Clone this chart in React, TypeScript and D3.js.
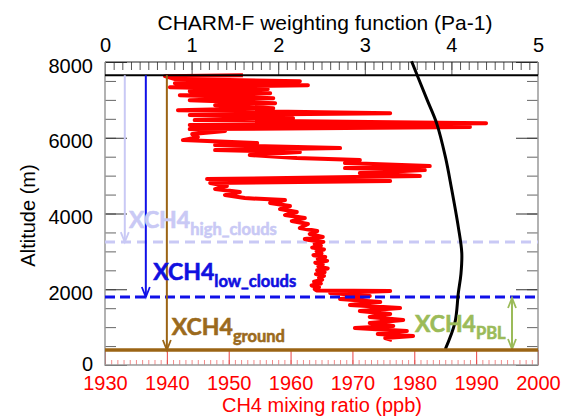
import React, { useRef, useEffect } from 'react'
import * as d3 from 'd3'

// CH4 profile (altitude m, mixing ratio ppb) top to bottom
const ch4Alt = [
    7653, 7627, 7548, 7495, 7442, 7389, 7336, 7284, 7231, 7178, 7125, 7046, 6993, 6914, 6861, 6782,
    6729, 6650, 6598, 6518, 6466, 6386, 6334, 6281, 6228, 6175, 6096, 6017, 5938, 5859, 5806, 5727,
    5674, 5621, 5542, 5463, 5410, 5331, 5252, 5199, 5146, 5067, 4988, 4909, 4856, 4803, 4724, 4645,
    4565, 4486, 4407, 4354, 4275, 4196, 4117, 4038, 3958, 3879, 3800, 3721, 3615, 3536, 3457, 3378,
    3325, 3300, 3250, 3200, 3150, 3100, 3050, 3000, 2950, 2900, 2850, 2800, 2750, 2700, 2650, 2600,
    2550, 2500, 2450, 2400, 2350, 2300, 2250, 2200, 2150, 2100, 2050, 2006, 1970, 1953, 1900, 1821,
    1742, 1663, 1583, 1504, 1425, 1346, 1267, 1188, 1108, 1029, 976, 897, 818, 765, 713, 660,
]
const ch4Ppb = [
    1952.3, 1939.7, 1941.3, 1961.5, 1941.3, 1962.8, 1940.5, 1956.3, 1943.7, 1956.7, 1942.1, 1957.2,
    1943.7, 1957.5, 1947.8, 1957.2, 1941.8, 1976.1, 1943.7, 1960.4, 1944.5, 1991.6, 1943.7, 1989.0,
    1943.7, 1949.4, 1944.1, 1945.0, 1942.6, 1954.6, 1947.8, 1968.0, 1947.8, 1961.5, 1953.4, 1961.0,
    1971.2, 1968.8, 1982.5, 1968.8, 1981.7, 1971.2, 1980.9, 1946.5, 1976.1, 1947.0, 1949.7, 1947.8,
    1951.8, 1949.4, 1952.6, 1959.1, 1956.7, 1959.9, 1958.3, 1961.0, 1959.1, 1962.3, 1960.2, 1962.8,
    1961.5, 1964.3, 1963.1, 1965.2, 1962.3, 1963.0, 1965.3, 1963.9, 1964.9, 1963.5, 1965.4, 1964.2,
    1965.0, 1963.7, 1965.6, 1964.4, 1965.9, 1964.0, 1965.2, 1964.5, 1966.0, 1964.3, 1965.5, 1964.1,
    1965.4, 1964.6, 1965.1, 1963.8, 1964.9, 1963.4, 1964.6, 1963.9, 1964.2, 1976.1, 1966.4, 1972.8,
    1968.0, 1974.5, 1969.6, 1977.7, 1971.2, 1976.1, 1972.8, 1978.2, 1972.8, 1976.6, 1970.4, 1978.8,
    1974.1, 1979.8, 1975.3, 1976.4,
]

// CHARM-F weighting function (Pa-1) vs altitude
const wfAlt = [8020, 7000, 6380, 5500, 4680, 3640, 2955, 2400, 1900, 1110, 420]
const wfVal = [3.54, 3.72, 3.83, 3.93, 4.0, 4.08, 4.12, 4.11, 4.08, 4.04, 3.93]

const topTicks = [0, 1, 2, 3, 4, 5]
const bottomTicks = [1930, 1940, 1950, 1960, 1970, 1980, 1990, 2000]
const altTicks = [0, 2000, 4000, 6000, 8000]

// reference levels (m)
const flightTop = 7650
const highClouds = 3245
const lowClouds = 1795
const ground = 396

// arrow positions (ppb)
const highArrow = 1933.2
const lowArrow = 1936.6
const groundArrow = 1940
const pblArrow = 1995.8

const W = 569
const H = 419

export default function App() {
    const svgRef = useRef<SVGSVGElement>(null)

    useEffect(() => {
        if (!svgRef.current) return
        const svg = d3.select(svgRef.current)
        svg.selectAll('*').remove()

        const left = 105
        const right = 538
        const top = 62
        const bottom = 365

        const x = d3.scaleLinear().domain([1930, 2000]).range([left, right])
        const xw = d3.scaleLinear().domain([0, 5]).range([left, right])
        const y = d3.scaleLinear().domain([0, 8000]).range([bottom, top])

        const font = 'Liberation Sans, Arial, sans-serif'
        const lab = 'Lato, Calibri, sans-serif'

        const style = (g: any, color: string, fs = 20) => {
            g.select('.domain').remove()
            g.selectAll('.tick line').attr('stroke', color)
            g.selectAll('.tick text').attr('font-size', fs).attr('font-family', font)
        }

        // top axis (weighting function)
        const topMinor = svg.append('g').attr('transform', `translate(0,${top})`)
            .call(d3.axisTop(xw).tickValues(d3.range(0, 5.001, 0.1)).tickSize(-8).tickFormat(() => ''))
        style(topMinor, '#555')
        const topMajor = svg.append('g').attr('transform', `translate(0,${top})`)
            .call(d3.axisTop(xw).tickValues(topTicks).tickSize(-13).tickPadding(10).tickFormat(d3.format('d')))
        style(topMajor, '#555')
        topMajor.selectAll('.tick text').attr('fill', '#000')

        // left / right altitude axes
        const leftMinor = svg.append('g').attr('transform', `translate(${left},0)`)
            .call(d3.axisLeft(y).tickValues(d3.range(0, 8001, 500)).tickSize(-11).tickFormat(() => ''))
        style(leftMinor, '#666')
        const leftMajor = svg.append('g').attr('transform', `translate(${left},0)`)
            .call(d3.axisLeft(y).tickValues(altTicks).tickSize(-22).tickPadding(12).tickFormat(d3.format('d')))
        style(leftMajor, '#333')
        leftMajor.selectAll('.tick text').attr('fill', '#000')
            .attr('dy', (d: number) => (d === 0 ? '0.28em' : '0.5em'))

        const rightMinor = svg.append('g').attr('transform', `translate(${right},0)`)
            .call(d3.axisRight(y).tickValues(d3.range(0, 8001, 500)).tickSize(-11).tickFormat(() => ''))
        style(rightMinor, '#666')
        const rightMajor = svg.append('g').attr('transform', `translate(${right},0)`)
            .call(d3.axisRight(y).tickValues(altTicks).tickSize(-22).tickFormat(() => ''))
        style(rightMajor, '#333')

        // bottom axis (CH4), red
        const botMinor = svg.append('g').attr('transform', `translate(0,${bottom})`)
            .call(d3.axisBottom(x).tickValues(d3.range(1930, 2000.01, 1)).tickSize(-5).tickFormat(() => ''))
        style(botMinor, '#f38a8a')
        const botMajor = svg.append('g').attr('transform', `translate(0,${bottom})`)
            .call(d3.axisBottom(x).tickValues(bottomTicks).tickSize(-15).tickPadding(11).tickFormat(d3.format('d')))
        style(botMajor, '#e84040')
        botMajor.selectAll('.tick text').attr('fill', '#ff0000')

        // frame
        svg.append('line').attr('x1', left).attr('x2', right).attr('y1', top).attr('y2', top)
            .attr('stroke', '#222').attr('stroke-width', 1)
        svg.append('path')
            .attr('d', `M${left},${top}V${bottom}H${right}V${top}`)
            .attr('fill', 'none').attr('stroke', '#999').attr('stroke-width', 1.5)

        // axis titles
        svg.append('text').attr('x', 325).attr('y', 30).attr('text-anchor', 'middle')
            .attr('font-family', font).attr('font-size', 21).text('CHARM-F weighting function (Pa-1)')
        svg.append('text').attr('x', 322).attr('y', 412).attr('text-anchor', 'middle')
            .attr('font-family', font).attr('font-size', 20).attr('fill', '#ff0000')
            .text('CH4 mixing ratio (ppb)')
        svg.append('text').attr('transform', `translate(35,${(top + bottom) / 2 + 2}) rotate(-90)`)
            .attr('text-anchor', 'middle').attr('font-family', font).attr('font-size', 20)
            .text('Altitude (m)')

        const hline = (alt: number, color: string, w: number, dash?: string) => {
            const l = svg.append('line').attr('x1', left).attr('x2', right)
                .attr('y1', y(alt)).attr('y2', y(alt))
                .attr('stroke', color).attr('stroke-width', w)
            if (dash) l.attr('stroke-dasharray', dash)
        }

        // high cloud level
        hline(highClouds, '#c9c9f5', 3, '10,6')

        // CH4 profile
        const pts = ch4Alt.map((a, i) => [ch4Ppb[i], a] as [number, number])
        svg.append('path').datum(pts)
            .attr('d', d3.line<[number, number]>().x((d) => x(d[0])).y((d) => y(d[1])))
            .attr('fill', 'none').attr('stroke', '#ff0000').attr('stroke-width', 4)
            .attr('stroke-linejoin', 'round')

        hline(lowClouds, '#1010e8', 3, '10,5')
        hline(flightTop, '#000', 2)

        // weighting function
        const wpts = wfAlt.map((a, i) => [wfVal[i], a] as [number, number])
        svg.append('path').datum(wpts)
            .attr('d', d3.line<[number, number]>().x((d) => xw(d[0])).y((d) => y(d[1])).curve(d3.curveCatmullRom))
            .attr('fill', 'none').attr('stroke', '#000').attr('stroke-width', 3)

        // arrows
        const arrow = (px: number, y0: number, y1: number, color: string, both = false) => {
            svg.append('line').attr('x1', px).attr('x2', px).attr('y1', y0).attr('y2', y1)
                .attr('stroke', color).attr('stroke-width', 2)
            const head = (yy: number, dir: number) =>
                svg.append('path')
                    .attr('d', `M${px - 4},${yy - dir * 10}L${px},${yy}L${px + 4},${yy - dir * 10}`)
                    .attr('fill', 'none').attr('stroke', color).attr('stroke-width', 1.8)
            head(y1, 1)
            if (both) head(y0, -1)
        }
        arrow(x(highArrow), y(flightTop), y(highClouds), '#c9c9f5')
        arrow(x(lowArrow), y(flightTop), y(lowClouds), '#1010e8')
        arrow(x(groundArrow), y(flightTop), y(ground), '#9b6414')
        arrow(x(pblArrow), y(lowClouds) + 1, y(ground) - 1, '#9bbb59', true)

        hline(ground, '#9b6414', 3.5)

        // labels
        const label = (ppb: number, alt: number, sub: string, color: string) => {
            const t = svg.append('text').attr('x', x(ppb)).attr('y', y(alt))
                .attr('font-family', lab).attr('font-weight', 'bold').attr('fill', color)
                .attr('stroke', color).attr('stroke-width', 0.6)
            t.append('tspan').attr('font-size', 23).text('XCH4')
            t.append('tspan').attr('font-size', 16.5).attr('dy', 7).text(sub)
        }
        label(1933.9, 3610, 'high_clouds', '#c9c9f5')
        label(1937.8, 2243, 'low_clouds', '#1010e0')
        label(1940.8, 792, 'ground', '#9b6a1c')
        label(1980.1, 871, 'PBL', '#9bbb59')
    }, [])

    return (
        <div style={{ position: 'absolute', left: 0, top: 0 }}>
            <svg ref={svgRef} width={W} height={H} style={{ display: 'block', background: '#fff' }} />
        </div>
    )
}
